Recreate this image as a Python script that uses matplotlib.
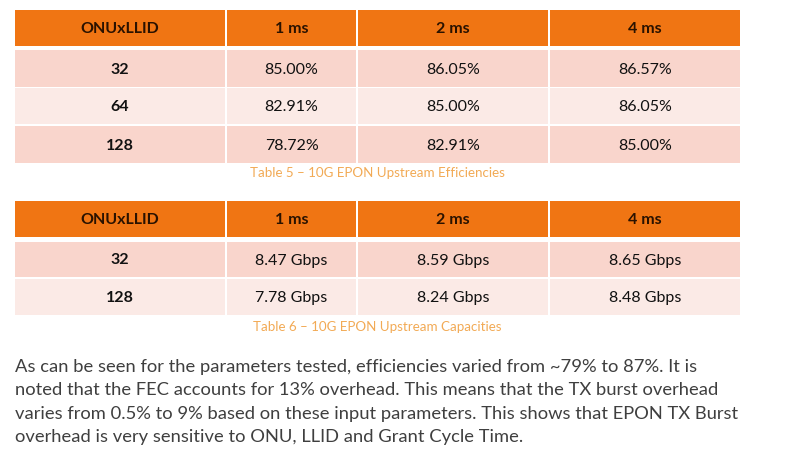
import matplotlib
matplotlib.use("Agg")
import matplotlib.pyplot as plt
from matplotlib.patches import Rectangle

# ---- data ----
columns = ["ONUxLLID", "1 ms", "2 ms", "4 ms"]
t5_rows = ["32", "64", "128"]
t5_1ms = ["85.00%", "82.91%", "78.72%"]
t5_2ms = ["86.05%", "85.00%", "82.91%"]
t5_4ms = ["86.57%", "86.05%", "85.00%"]
t5_caption = "Table 5 \u2013 10G EPON Upstream Efficiencies"

t6_rows = ["32", "128"]
t6_1ms = ["8.47 Gbps", "7.78 Gbps"]
t6_2ms = ["8.59 Gbps", "8.24 Gbps"]
t6_4ms = ["8.65 Gbps", "8.48 Gbps"]
t6_caption = "Table 6 \u2013 10G EPON Upstream Capacities"

paragraph = [
    "As can be seen for the parameters tested, efficiencies varied from ~79% to 87%. It is",
    "noted that the FEC accounts for 13% overhead. This means that the TX burst overhead",
    "varies from 0.5% to 9% based on these input parameters. This shows that EPON TX Burst",
    "overhead is very sensitive to ONU, LLID and Grant Cycle Time.",
]

# ---- style ----
W, H = 810, 459
HEAD = "#F07513"
ROW_A = "#F9D5CC"
ROW_B = "#FBEAE6"
CAP = "#F2AA55"
TXT = "#111111"
PARA = "#3F3F3F"
FONT = "Lato"

fig = plt.figure(figsize=(W / 100, H / 100), dpi=100)
ax = fig.add_axes([0, 0, 1, 1])
ax.set_xlim(0, W)
ax.set_ylim(H, 0)
ax.axis("off")

col_edges = [15, 226, 357, 549, 740]
gap = 2


def draw_table(top, head_h, row_ys, rows, cols_data, caption, cap_y):
    for j, name in enumerate(columns):
        x0 = col_edges[j] + (gap / 2 if j > 0 else 0)
        x1 = col_edges[j + 1] - (gap / 2 if j < 3 else 0)
        ax.add_patch(Rectangle((x0, top), x1 - x0, head_h, facecolor=HEAD, edgecolor="none"))
        ax.text((x0 + x1) / 2, top + head_h / 2 + 1, name, ha="center", va="center",
                fontsize=11.5, fontweight="bold", color="#2a1200", family=FONT)
    for i, (y0, y1) in enumerate(row_ys):
        fc = ROW_A if i % 2 == 0 else ROW_B
        vals = [rows[i]] + [c[i] for c in cols_data]
        for j, v in enumerate(vals):
            x0 = col_edges[j] + (gap / 2 if j > 0 else 0)
            x1 = col_edges[j + 1] - (gap / 2 if j < 3 else 0)
            ax.add_patch(Rectangle((x0, y0), x1 - x0, y1 - y0, facecolor=fc, edgecolor="none"))
            ax.text((x0 + x1) / 2, (y0 + y1) / 2 + 1, v, ha="center", va="center",
                    fontsize=11.5, fontweight="bold" if j == 0 else "normal",
                    color=TXT, family=FONT)
    ax.text((col_edges[0] + col_edges[-1]) / 2, cap_y, caption, ha="center", va="center",
            fontsize=9.6, color=CAP, family=FONT)


draw_table(10, 36, [(50, 87), (88, 124), (126, 163)], t5_rows,
           [t5_1ms, t5_2ms, t5_4ms], t5_caption, 173)
draw_table(201, 36, [(242, 277), (279, 315)], t6_rows,
           [t6_1ms, t6_2ms, t6_4ms], t6_caption, 327)

line_ys = [367, 390, 414, 437]
fig.canvas.draw()
r = fig.canvas.get_renderer()
texts = [ax.text(15, y, s, ha="left", va="center", fontsize=12, color=PARA, family=FONT)
         for y, s in zip(line_ys, paragraph)]
maxw = max(t.get_window_extent(renderer=r).width for t in texts)
fs = 12 * (737 - 15) / maxw
for t in texts:
    t.set_fontsize(fs)

fig.savefig("out.png", dpi=100)
